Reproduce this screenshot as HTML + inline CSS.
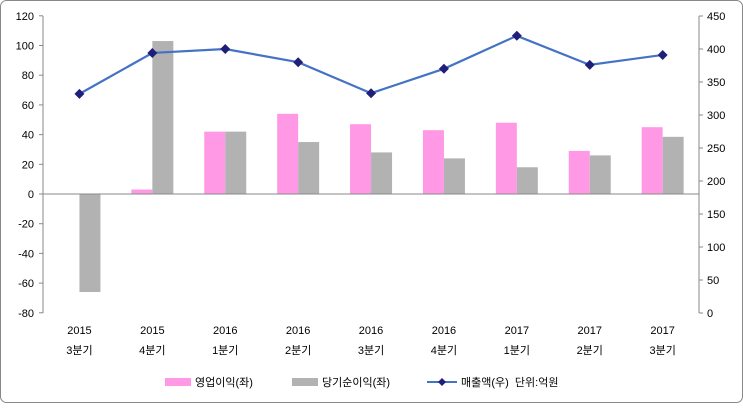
<!DOCTYPE html>
<html><head><meta charset="utf-8"><style>
body{margin:0;background:#fff}
text{font-family:"Liberation Sans","Noto Sans CJK KR",sans-serif;font-size:11px;fill:#000}
</style></head><body>
<svg width="743" height="403" xmlns="http://www.w3.org/2000/svg">
<rect x="0.5" y="0.5" width="742" height="402" rx="6" fill="#fff" stroke="#888"/>
<g id="bars"></g>
<line x1="43" y1="16" x2="43" y2="313" stroke="#888"/>
<line x1="699" y1="16" x2="699" y2="313" stroke="#888"/>
<line x1="43" y1="194" x2="699" y2="194" stroke="#888"/>
<g id="ticks"></g>
<g id="labels"></g>
<g id="line"></g>
<g transform="translate(165,383)">
<rect x="0" y="-5" width="26" height="8" fill="#ff99e6"/><text x="30" y="3">영업이익(좌)</text>
<rect x="127" y="-5" width="26" height="8" fill="#b2b2b2"/><text x="157" y="3">당기순이익(좌)</text>
<line x1="262" y1="-1" x2="292" y2="-1" stroke="#4472c4" stroke-width="2"/><path d="M277,-5 L281,-1 L277,3 L273,-1Z" fill="#1f1f7a"/><text x="296" y="3">매출액(우) &#160;단위:억원</text>
</g>
<script>
var ns="http://www.w3.org/2000/svg";
function el(g,t,a,txt){var e=document.createElementNS(ns,t);for(var k in a)e.setAttribute(k,a[k]);if(txt!=null)e.textContent=txt;document.getElementById(g).appendChild(e);}
var y0=194,s=1.485;
var op=[0,3,42,54,47,43,48,29,45],np=[-66,103,42,35,28,24,18,26,38.5];
var rev=[332,394,400,380,333,370,420,376,391];
var yr=["2015","2015","2016","2016","2016","2016","2017","2017","2017"],q=["3분기","4분기","1분기","2분기","3분기","4분기","1분기","2분기","3분기"];
var pts=[];
for(var i=0;i<9;i++){var c=43+36.45+i*72.9;
if(op[i]){var h=op[i]*s;el("bars","rect",{x:c-21,y:h>0?y0-h:y0,width:21,height:Math.abs(h),fill:"#ff99e6"});}
var h2=np[i]*s;el("bars","rect",{x:c,y:h2>0?y0-h2:y0,width:21,height:Math.abs(h2),fill:"#b2b2b2"});
el("labels","text",{x:c,y:334,"text-anchor":"middle"},yr[i]);
el("labels","text",{x:c,y:354,"text-anchor":"middle"},q[i]);
pts.push([c,313-rev[i]*0.66]);}
for(var v=-80;v<=120;v+=20){var y=y0-v*s;el("ticks","line",{x1:39,x2:43,y1:y,y2:y,stroke:"#888"});el("labels","text",{x:34,y:y+4,"text-anchor":"end"},v);}
for(var v=0;v<=450;v+=50){var y=313-v*0.66;el("ticks","line",{x1:699,x2:703,y1:y,y2:y,stroke:"#888"});el("labels","text",{x:707,y:y+4},v);}
el("line","polyline",{points:pts.map(p=>p.join(",")).join(" "),fill:"none",stroke:"#4472c4","stroke-width":2.2});
pts.forEach(p=>el("line","path",{d:"M"+p[0]+","+(p[1]-5)+" L"+(p[0]+5)+","+p[1]+" L"+p[0]+","+(p[1]+5)+" L"+(p[0]-5)+","+p[1]+"Z",fill:"#1f1f7a"}));
</script>
</svg>
</body></html>
